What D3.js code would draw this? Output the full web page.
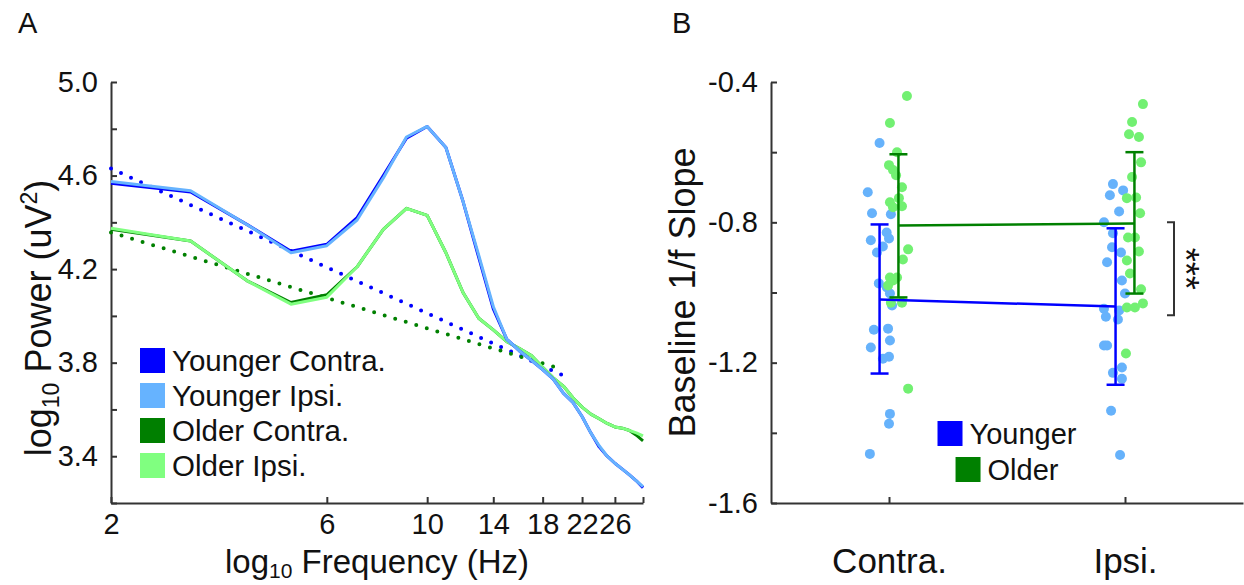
<!DOCTYPE html>
<html>
<head>
<meta charset="utf-8">
<script src="https://cdn.jsdelivr.net/npm/d3@7"></script>
<style>
body { margin: 0; background: #fff; }
svg text { font-family: "Liberation Sans", Arial, Helvetica, sans-serif; fill: #111; }
.axis path, .axis line { stroke: #333; stroke-width: 2; }
</style>
</head>
<body>
<div id="chart"></div>
<script>
// ---- panel A data: log10 power spectra ----
var freqs = [2, 3, 4, 5, 6, 7, 8, 9, 10, 11, 12, 13, 14, 15, 16, 17, 18, 19, 20, 21, 22, 23, 24, 25, 26, 27, 28, 29, 30];
var youngerContra = [4.567, 4.53, 4.39, 4.276, 4.306, 4.42, 4.6, 4.76, 4.81, 4.72, 4.49, 4.25, 4.03, 3.90, 3.85, 3.81, 3.77, 3.73, 3.67, 3.63, 3.57, 3.50, 3.44, 3.40, 3.37, 3.345, 3.32, 3.295, 3.265];
var youngerIpsi   = [4.575, 4.535, 4.39, 4.27, 4.30, 4.41, 4.59, 4.765, 4.81, 4.72, 4.49, 4.26, 4.04, 3.90, 3.85, 3.81, 3.77, 3.73, 3.67, 3.63, 3.57, 3.50, 3.445, 3.40, 3.37, 3.345, 3.32, 3.295, 3.27];
var olderContra   = [4.37, 4.32, 4.15, 4.057, 4.09, 4.21, 4.37, 4.46, 4.43, 4.27, 4.10, 3.99, 3.94, 3.89, 3.86, 3.83, 3.78, 3.735, 3.70, 3.65, 3.61, 3.58, 3.56, 3.54, 3.525, 3.52, 3.51, 3.49, 3.466];
var olderIpsi     = [4.375, 4.32, 4.15, 4.05, 4.08, 4.21, 4.37, 4.46, 4.43, 4.27, 4.10, 3.99, 3.94, 3.89, 3.86, 3.83, 3.78, 3.735, 3.70, 3.65, 3.61, 3.58, 3.56, 3.54, 3.525, 3.52, 3.51, 3.50, 3.487];

// 1/f fits (straight in log-log)
var fitFreqs = [2, 20];
var youngerFit = [4.63, 3.745];
var olderFit = [4.357, 3.77];

var freqTicks = [2, 6, 10, 14, 18, 22, 26, 30];
var freqLabels = [2, 6, 10, 14, 18, 22, 26];
var powerTicks = [3.2, 3.4, 3.6, 3.8, 4.0, 4.2, 4.4, 4.6, 4.8, 5.0];
var powerLabels = [3.4, 3.8, 4.2, 4.6, 5.0];

var legendA = ["Younger Contra.", "Younger Ipsi.", "Older Contra.", "Older Ipsi."];
var colorsA = ["#0000ff", "#66b3ff", "#007f00", "#80ff80"];

// ---- panel B data: baseline 1/f slope ----
var conditions = ["Contra.", "Ipsi."];
var youngerMean = [-1.02, -1.04];
var youngerLow  = [-1.231, -1.263];
var youngerHigh = [-0.806, -0.817];
var olderMean = [-0.809, -0.803];
var olderLow  = [-1.014, -1.003];
var olderHigh = [-0.606, -0.60];

// individual subjects: [jitter, slope]
var youngerContraDots = [[-0.04, -0.574], [-0.09, -0.714], [-0.072, -0.774], [0.008, -0.777], [-0.01, -0.829], [-0.077, -0.851],
  [0.0, -0.846], [-0.026, -0.869], [-0.051, -0.886], [-0.043, -0.974], [-0.009, -0.986], [0.004, -1.003], [0.013, -1.037],
  [-0.064, -1.106], [-0.004, -1.103], [0.004, -1.137], [-0.077, -1.157], [0.0, -1.183], [-0.026, -1.189], [0.004, -1.346],
  [0.0, -1.374], [-0.081, -1.46]];
var olderContraDots = [[0.076, -0.44], [0.004, -0.517], [0.034, -0.60], [0.0, -0.637], [0.017, -0.651], [0.03, -0.666],
  [0.055, -0.70], [0.004, -0.743], [0.042, -0.731], [0.055, -0.754], [0.017, -0.757], [0.081, -0.877], [0.059, -0.906],
  [0.004, -0.957], [0.034, -0.957], [-0.004, -0.98], [0.017, -0.966], [0.055, -1.029], [0.008, -1.029], [0.081, -1.274]];
var youngerIpsiDots = [[-0.051, -0.691], [-0.008, -0.709], [-0.064, -0.723], [-0.025, -0.769], [-0.089, -0.80], [-0.051, -0.831],
  [-0.055, -0.871], [-0.017, -0.886], [-0.076, -0.914], [-0.013, -0.966], [0.0, -1.003], [-0.089, -1.046], [-0.025, -1.051],
  [-0.081, -1.069], [-0.03, -1.077], [-0.089, -1.151], [-0.076, -1.151], [-0.013, -1.214], [-0.051, -1.229], [-0.013, -1.246],
  [-0.059, -1.337], [-0.021, -1.463]];
var olderIpsiDots = [[0.076, -0.463], [0.03, -0.514], [0.017, -0.549], [0.059, -0.557], [0.068, -0.629], [0.03, -0.671],
  [0.008, -0.731], [0.047, -0.729], [0.064, -0.774], [0.013, -0.843], [0.042, -0.843], [0.059, -0.883], [0.008, -0.909],
  [0.021, -0.946], [0.068, -0.991], [0.008, -1.043], [0.042, -1.043], [0.076, -1.031], [0.004, -1.174]];

var slopeTicks = [-1.6, -1.4, -1.2, -1.0, -0.8, -0.6, -0.4];
var slopeLabels = [-1.6, -1.2, -0.8, -0.4];
var sigBracket = [-0.80, -1.065];
var groupOffset = [-0.04, 0.04]; // younger, older
var legendB = ["Younger", "Older"];
var colorsB = ["#0000ff", "#008000"];
var dotColors = ["#66b2fb", "#72f072"];

var width = 1244, height = 585;

var svg = d3.select("#chart").append("svg")
    .attr("width", width)
    .attr("height", height);

function hasValue(list, v) {
    return list.some(function(d) { return Math.abs(d - v) < 1e-6; });
}

// ================= panel A =================
var xA = d3.scaleLog().domain([2, 30]).range([111, 643]);
var yA = d3.scaleLinear().domain([3.2, 5.0]).range([503, 82]);

var gA = svg.append("g");

gA.append("g")
    .attr("class", "axis")
    .attr("transform", "translate(0," + yA.range()[0] + ")")
    .call(d3.axisBottom(xA).tickValues(freqTicks).tickSize(-6).tickSizeOuter(0).tickPadding(10)
        .tickFormat(function(d) { return hasValue(freqLabels, d) ? d : ""; }))
    .call(function(g) { g.selectAll("text").attr("font-size", 29).attr("fill", "#111"); });

gA.append("g")
    .attr("class", "axis")
    .attr("transform", "translate(" + xA.range()[0] + ",0)")
    .call(d3.axisLeft(yA).tickValues(powerTicks).tickSize(-6).tickSizeOuter(0).tickPadding(13)
        .tickFormat(function(d) { return hasValue(powerLabels, d) ? d.toFixed(1) : ""; }))
    .call(function(g) { g.selectAll("text").attr("font-size", 29).attr("fill", "#111"); });

var lineA = d3.line()
    .curve(d3.curveLinear)
    .x(function(d) { return xA(d[0]); })
    .y(function(d) { return yA(d[1]); });

function zipA(xs, ys) { return xs.map(function(f, i) { return [f, ys[i]]; }); }

// fits underneath
[[youngerFit, "#0000ff"], [olderFit, "#008000"]].forEach(function(s) {
    gA.append("path")
        .attr("d", lineA(zipA(fitFreqs, s[0])))
        .attr("fill", "none")
        .attr("stroke", s[1])
        .attr("stroke-width", 4)
        .attr("stroke-linecap", "round")
        .attr("stroke-dasharray", "0,11");
});

[olderContra, olderIpsi, youngerContra, youngerIpsi].forEach(function(vals, i) {
    var c = [colorsA[2], colorsA[3], colorsA[0], colorsA[1]][i];
    gA.append("path")
        .attr("d", lineA(zipA(freqs, vals)))
        .attr("fill", "none")
        .attr("stroke", c)
        .attr("stroke-width", 3)
        .attr("stroke-linejoin", "round");
});

// legend A
var legA = gA.selectAll(".legA").data(legendA).enter().append("g")
    .attr("transform", function(d, i) { return "translate(140," + (348 + i * 35) + ")"; });
legA.append("rect").attr("width", 25).attr("height", 25)
    .attr("fill", function(d, i) { return colorsA[i]; });
legA.append("text").attr("x", 32).attr("y", 23).attr("font-size", 29.5)
    .text(function(d) { return d; });

// axis titles A
var xtA = gA.append("text")
    .attr("x", (xA.range()[0] + xA.range()[1]) / 2)
    .attr("y", 573)
    .attr("text-anchor", "middle")
    .attr("font-size", 33);
xtA.append("tspan").text("log");
xtA.append("tspan").attr("font-size", 21).attr("dy", 5).text("10");
xtA.append("tspan").attr("dy", -5).text(" Frequency (Hz)");

var ytA = gA.append("text")
    .attr("transform", "translate(51,318) rotate(-90)")
    .attr("text-anchor", "middle")
    .attr("font-size", 36);
ytA.append("tspan").text("log");
ytA.append("tspan").attr("font-size", 23).attr("dy", 8).text("10");
ytA.append("tspan").attr("dy", -8).text(" Power (uV");
ytA.append("tspan").attr("font-size", 23).attr("dy", -14).text("2");
ytA.append("tspan").attr("dy", 14).text(")");

gA.append("text").attr("x", 18).attr("y", 33).attr("font-size", 29).text("A");

// ================= panel B =================
var xB = d3.scaleLinear().domain([0.5, 2.5]).range([771, 1243]);
var yB = d3.scaleLinear().domain([-1.6, -0.4]).range([503, 82]);

var gB = svg.append("g");

gB.append("g")
    .attr("class", "axis")
    .attr("transform", "translate(0," + yB.range()[0] + ")")
    .call(d3.axisBottom(xB).tickValues([1, 2]).tickSize(-6).tickSizeOuter(0).tickPadding(45)
        .tickFormat(function(d) { return conditions[d - 1]; }))
    .call(function(g) { g.selectAll("text").attr("font-size", 35).attr("fill", "#111"); });

gB.append("g")
    .attr("class", "axis")
    .attr("transform", "translate(" + xB.range()[0] + ",0)")
    .call(d3.axisLeft(yB).tickValues(slopeTicks).tickSize(-6).tickSizeOuter(0).tickPadding(13)
        .tickFormat(function(d) { return hasValue(slopeLabels, d) ? d.toFixed(1) : ""; }))
    .call(function(g) { g.selectAll("text").attr("font-size", 29).attr("fill", "#111"); });

// dots
var dotSets = [
    [youngerContraDots, 1, 0], [youngerIpsiDots, 2, 0],
    [olderContraDots, 1, 1], [olderIpsiDots, 2, 1]
];
dotSets.forEach(function(s) {
    gB.append("g").selectAll("circle")
        .data(s[0]).enter().append("circle")
        .attr("cx", function(d) { return xB(s[1] + d[0]); })
        .attr("cy", function(d) { return yB(d[1]); })
        .attr("r", 5)
        .attr("fill", dotColors[s[2]]);
});

// means + error bars
var groups = [[youngerMean, youngerLow, youngerHigh], [olderMean, olderLow, olderHigh]];
groups.forEach(function(gr, gi) {
    var col = colorsB[gi];
    var pts = gr[0].map(function(m, ci) { return [ci + 1 + groupOffset[gi], m]; });
    gB.append("path")
        .attr("d", d3.line().x(function(d) { return xB(d[0]); }).y(function(d) { return yB(d[1]); })(pts))
        .attr("fill", "none").attr("stroke", col).attr("stroke-width", 2.5);
    pts.forEach(function(p, ci) {
        var cx = xB(p[0]);
        var lo = yB(gr[1][ci]), hi = yB(gr[2][ci]);
        gB.append("line").attr("x1", cx).attr("x2", cx).attr("y1", lo).attr("y2", hi)
            .attr("stroke", col).attr("stroke-width", 2.5);
        [lo, hi].forEach(function(yy) {
            gB.append("line").attr("x1", cx - 9).attr("x2", cx + 9).attr("y1", yy).attr("y2", yy)
                .attr("stroke", col).attr("stroke-width", 2.5);
        });
    });
});

// significance bracket
var bx = xB(2) + 49;
gB.append("path")
    .attr("d", "M" + (bx - 7) + "," + yB(sigBracket[0]) + "H" + bx + "V" + yB(sigBracket[1]) + "H" + (bx - 7))
    .attr("fill", "none").attr("stroke", "#333").attr("stroke-width", 2);
gB.append("text")
    .attr("transform", "translate(" + (bx - 1) + "," + ((yB(sigBracket[0]) + yB(sigBracket[1])) / 2) + ") rotate(90)")
    .attr("text-anchor", "middle")
    .attr("font-size", 36)
    .text("***");

// legend B (rows centred)
var legCx = xB(1.5);
var legB = gB.selectAll(".legB").data(legendB).enter().append("g");
legB.append("rect").attr("width", 25).attr("height", 25)
    .attr("fill", function(d, i) { return colorsB[i]; });
legB.append("text").attr("x", 32).attr("y", 23).attr("font-size", 29)
    .text(function(d) { return d; });
legB.attr("transform", function(d, i) {
    var w = 32 + d3.select(this).select("text").node().getComputedTextLength();
    return "translate(" + (legCx - w / 2) + "," + (421 + i * 36) + ")";
});

// axis title B
gB.append("text")
    .attr("transform", "translate(695," + ((yB.range()[0] + yB.range()[1]) / 2) + ") rotate(-90)")
    .attr("text-anchor", "middle")
    .attr("font-size", 36)
    .text("Baseline 1/f Slope");

gB.append("text").attr("x", 672).attr("y", 33).attr("font-size", 29).text("B");
</script>
</body>
</html>
